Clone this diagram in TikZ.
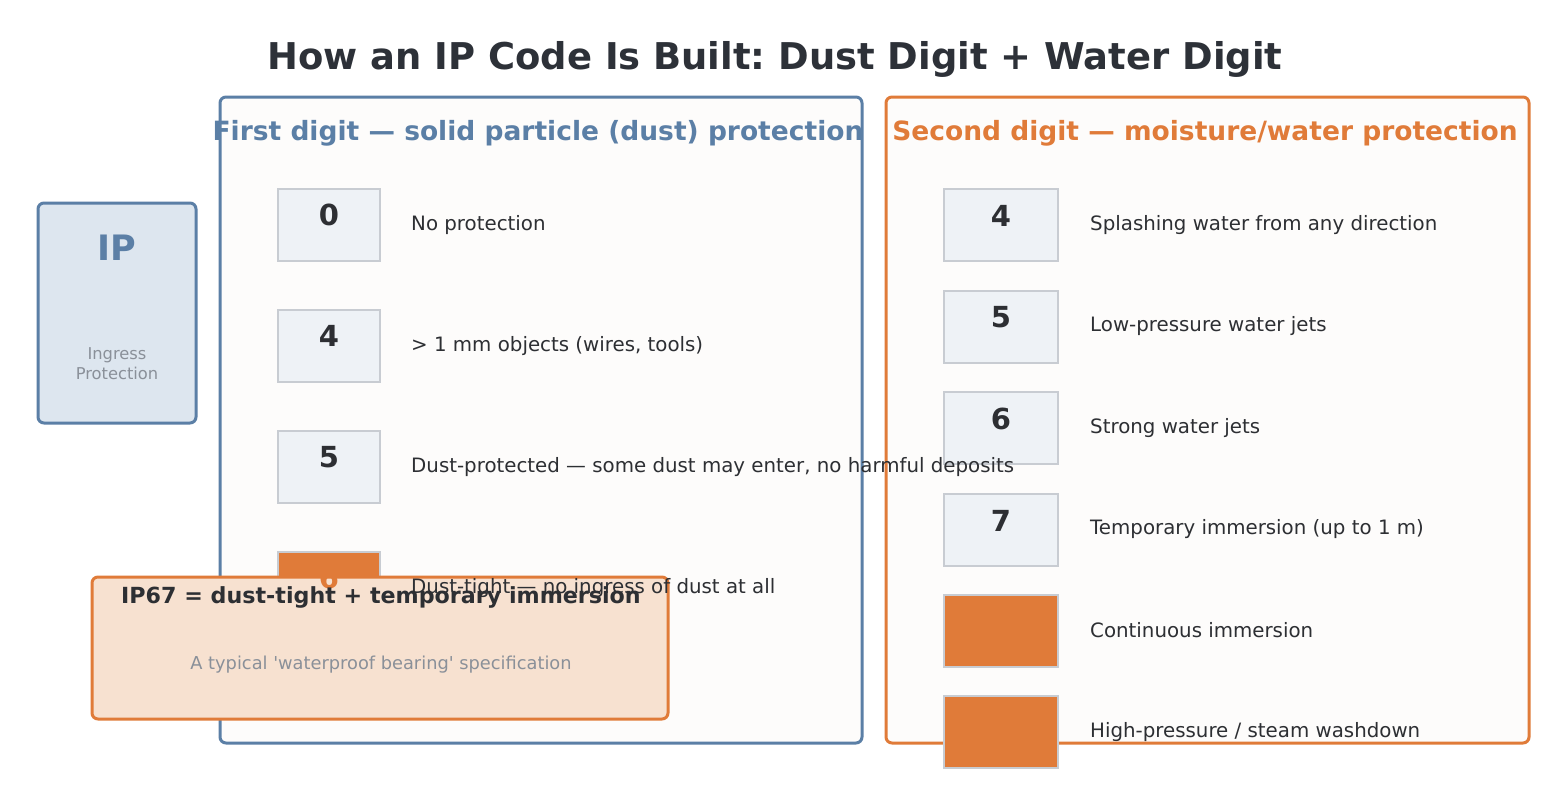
\documentclass[tikz,border=0pt]{standalone}
\usepackage{fontspec}
\setmainfont{DejaVu Sans}
\usetikzlibrary{positioning}
\frenchspacing

\definecolor{titlecol}{HTML}{2D3138}
\definecolor{dustblue}{HTML}{5B7FA6}
\definecolor{waterorange}{HTML}{E07B39}
\definecolor{panelfill}{HTML}{FDFCFB}
\definecolor{ipfill}{HTML}{DDE6EF}
\definecolor{digitfill}{HTML}{EEF2F6}
\definecolor{digitline}{HTML}{C8CCD2}
\definecolor{callfill}{HTML}{F7E1D0}
\definecolor{softgray}{HTML}{8A9099}
\definecolor{desccol}{HTML}{2D2F33}

\tikzset{
	panelbox/.style={draw=#1, line width=3pt, fill=panelfill, rounded corners=6pt},
	digitbox/.style={draw=digitline, line width=2pt, fill=digitfill, minimum height=72pt, inner sep=0pt},
	hotbox/.style={draw=digitline, line width=2pt, fill=waterorange, minimum height=72pt, inner sep=0pt},
	digitnum/.style={font=\fontsize{29}{32}\selectfont\bfseries, text=desccol, inner sep=0pt},
	hotnum/.style={font=\fontsize{29}{32}\selectfont\bfseries, text=waterorange, inner sep=0pt},
	desc/.style={font=\fontsize{19.8}{23}\selectfont, text=desccol, anchor=west, inner sep=0pt},
}

\begin{document}
\begin{tikzpicture}[x=1pt,y=-1pt]
	\useasboundingbox[fill=white] (0,0) rectangle (1549,793);

	% title
	\node[font=\fontsize{36.9}{42}\selectfont\bfseries, text=titlecol] (title) at (775,59) {How an IP Code Is Built: Dust Digit + Water Digit};

	% IP card
	\node[draw=dustblue, line width=3pt, fill=ipfill, rounded corners=6pt, minimum width=158pt, minimum height=220pt, inner sep=0pt] (ipcard) at (117,313) {};
	\node[font=\fontsize{35}{38}\selectfont\bfseries, text=dustblue] (iplabel) at (117,248) {IP};
	\node[font=\fontsize{16.3}{19.5}\selectfont, text=softgray, align=center] (ipname) at (117,363.5) {Ingress\\Protection};

	% panels
	\draw[panelbox=dustblue] (220,97) rectangle (862,743);
	\node[font=\fontsize{26.5}{30}\selectfont\bfseries, text=dustblue] (dusttitle) at (538,133) {First digit --- solid particle (dust) protection};
	\draw[panelbox=waterorange] (886,97) rectangle (1529,743);
	\node[font=\fontsize{26.5}{30}\selectfont\bfseries, text=waterorange] (watertitle) at (1205,133) {Second digit --- moisture/water protection};

	% first digit boxes
	\node[digitbox, minimum width=102pt] (d0) at (329,225) {};
	\node[digitbox, minimum width=102pt] (d4) at (329,346) {};
	\node[digitbox, minimum width=102pt] (d5) at (329,467) {};
	\node[hotbox, minimum width=102pt] (d6) at (329,588) {};

	% second digit boxes
	\node[digitbox, minimum width=114pt] (w4) at (1001,225) {};
	\node[digitbox, minimum width=114pt] (w5) at (1001,326.5) {};
	\node[digitbox, minimum width=114pt] (w6) at (1001,428) {};
	\node[digitbox, minimum width=114pt] (w7) at (1001,529.5) {};
	\node[hotbox, minimum width=114pt] (w8) at (1001,630.5) {};
	\node[hotbox, minimum width=114pt] (w9) at (1001,732) {};

	% example callout
	\node[draw=waterorange, line width=3pt, fill=callfill, rounded corners=6pt, minimum width=576pt, minimum height=142pt, inner sep=0pt] (callout) at (380,648) {};

	% digits
	\node[digitnum] at (329,215) {0};
	\node[digitnum] at (329,336) {4};
	\node[digitnum] at (329,457) {5};
	\node[hotnum] at (329,578) {6};
	\node[digitnum] at (1001,216) {4};
	\node[digitnum] at (1001,317.5) {5};
	\node[digitnum] at (1001,419) {6};
	\node[digitnum] at (1001,520.5) {7};
	\node[hotnum] at (1001,621.5) {8};
	\node[hotnum] at (1001,723) {9};

	% descriptions
	\node[desc] at (411,225) {No protection};
	\node[desc] at (411,346) {> 1 mm objects (wires, tools)};
	\node[desc] at (411,467) {Dust-protected --- some dust may enter, no harmful deposits};
	\node[desc] at (411,588) {Dust-tight --- no ingress of dust at all};
	\node[desc] at (1090,225) {Splashing water from any direction};
	\node[desc] at (1090,326.5) {Low-pressure water jets};
	\node[desc] at (1090,428) {Strong water jets};
	\node[desc] at (1090,529.5) {Temporary immersion (up to 1 m)};
	\node[desc] at (1090,630.5) {Continuous immersion};
	\node[desc] at (1090,732) {High-pressure / steam washdown};

	% callout texts
	\node[font=\fontsize{22.2}{26}\selectfont\bfseries, text=desccol, anchor=west, inner sep=0pt] (calltitle) at (121,597) {IP67 = dust-tight + temporary immersion};
	\node[font=\fontsize{17.8}{21}\selectfont, text=softgray] (callnote) at (381,665) {A typical \textquotesingle waterproof bearing\textquotesingle{} specification};
\end{tikzpicture}
\end{document}
